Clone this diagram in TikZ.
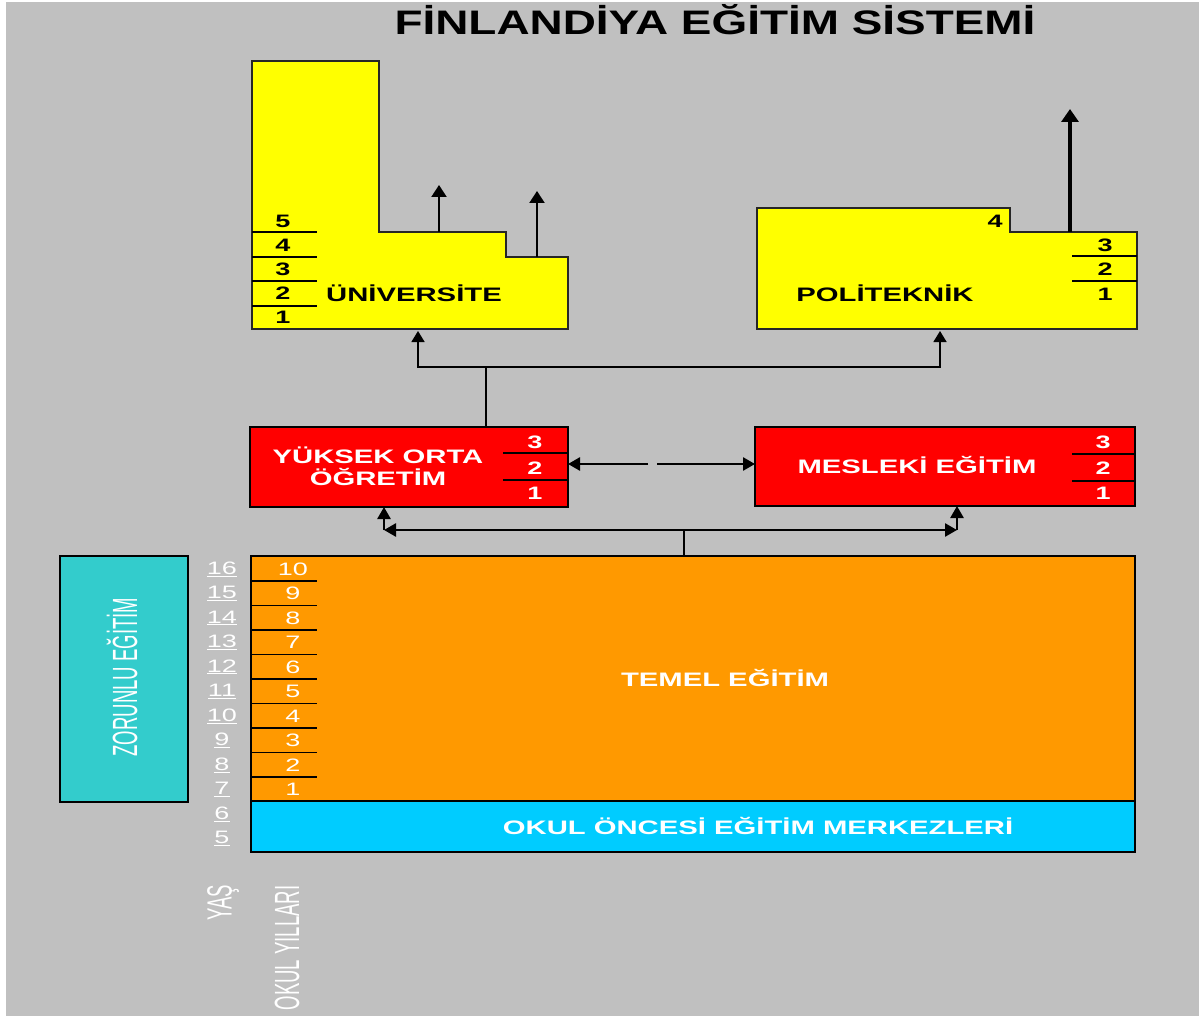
\documentclass[tikz,border=0pt]{standalone}
\usepackage{fontspec}
\setmainfont{Liberation Sans}
\newfontfamily\titlef{Liberation Sans Bold}[FakeStretch=1.35]
\newfontfamily\widebf{Liberation Sans Bold}[FakeStretch=1.5]
\newfontfamily\widerg{Liberation Sans}[FakeStretch=1.5]
\newfontfamily\condf{Liberation Sans}[FakeStretch=0.53]
\usetikzlibrary{arrows.meta}
\definecolor{bggray}{HTML}{C0C0C0}
\definecolor{ylw}{HTML}{FFFF00}
\definecolor{rd}{HTML}{FF0000}
\definecolor{orng}{HTML}{FF9900}
\definecolor{cyn}{HTML}{00CCFF}
\definecolor{teal2}{HTML}{33CCCC}
\tikzset{
  ybox/.style={draw=black!85, line width=1.6pt, fill=ylw},
  rbox/.style={draw=black, line width=2.6pt, fill=rd, rectangle, inner sep=0pt, outer sep=0pt},
  obox/.style={draw=black, line width=2.6pt, fill=orng, rectangle, inner sep=0pt, outer sep=0pt},
  cbox/.style={draw=black, line width=2.6pt, fill=cyn, rectangle, inner sep=0pt, outer sep=0pt},
  tbox/.style={draw=black, line width=2.6pt, fill=teal2, rectangle, inner sep=0pt, outer sep=0pt},
  titletext/.style={font=\titlef\fontsize{34}{40}\selectfont, text=black, inner sep=0pt},
  boxlabel/.style={font=\widebf\fontsize{19.5}{22}\selectfont, inner sep=0pt, align=center},
  numb/.style={font=\widebf\fontsize{18}{20}\selectfont, inner sep=0pt},
  thinnum/.style={font=\widerg\fontsize{18}{20}\selectfont, inner sep=0pt, text=white},
  vertlabel/.style={font=\condf\fontsize{35}{40}\selectfont, text=white, rotate=90, inner sep=0pt},
  yrline/.style={draw=black, line width=1.1pt},
  thinarrow/.style={draw=black, line width=1.6pt, -{Triangle[width=13pt,length=11pt]}},
  medarrow/.style={draw=black, line width=2.2pt, -{Triangle[width=15pt,length=12pt]}},
  thickarrow/.style={draw=black, line width=3.4pt, -{Triangle[width=17pt,length=13pt]}},
  redarrow/.style={draw=black, line width=2.6pt, -{Triangle[width=13pt,length=12pt]}},
  plainline/.style={draw=black, line width=1.6pt},
  thickline/.style={draw=black, line width=2.6pt}
}
\begin{document}
\begin{tikzpicture}[x=1pt,y=-1pt]
\useasboundingbox (0,0) rectangle (1199,1016);
\fill[white] (0,0) rectangle (1199,1016);
\fill[bggray] (6,2) rectangle (1199,1016);

% title
\node[titletext] (title) at (715,20) {FİNLANDİYA EĞİTİM SİSTEMİ};

% university
\draw[ybox] (252,61) -- (379,61) -- (379,232) -- (506,232) -- (506,257) -- (568,257) -- (568,329) -- (252,329) -- cycle;
\foreach \yy in {232,257,281,306} \draw[yrline] (252,\yy) -- (317,\yy);
\foreach \n/\yy in {5/221,4/245,3/269,2/293,1/317} \node[numb] (u\n) at (283,\yy) {\n};
\node[boxlabel] (uni) at (414,293) {ÜNİVERSİTE};
\coordinate (uniA) at (439,232);
\coordinate (uniAt) at (439,185);
\coordinate (uniB) at (537,257);
\coordinate (uniBt) at (537,191);
\coordinate (uniIn) at (418,331);
\draw[medarrow] (uniA) -- (uniAt);
\draw[medarrow] (uniB) -- (uniBt);

% politeknik
\draw[ybox] (757,208) -- (1010,208) -- (1010,232) -- (1137,232) -- (1137,329) -- (757,329) -- cycle;
\foreach \yy in {256,281} \draw[yrline] (1072,\yy) -- (1137,\yy);
\foreach \n/\yy in {3/245,2/269,1/294} \node[numb] (p\n) at (1105,\yy) {\n};
\node[numb] (p4) at (995,221) {4};
\node[boxlabel] (poli) at (885,293) {POLİTEKNİK};
\coordinate (polA) at (1070,232);
\coordinate (polAt) at (1070,109);
\coordinate (polIn) at (940,331);
\draw[thickarrow] (polA) -- (polAt);

% red boxes
\node[rbox, minimum width=318, minimum height=80] (yuk) at (409,467) {};
\node[rbox, minimum width=380, minimum height=79] (mes) at (945,466.5) {};
\foreach \yy in {453,480} \draw[yrline] (503,\yy) -- (568,\yy);
\foreach \yy in {454,481} \draw[yrline] (1072,\yy) -- (1135,\yy);
\foreach \n/\yy in {3/442,2/468,1/493} {
  \node[numb, text=white] (y\n) at (535,\yy) {\n};
  \node[numb, text=white] (m\n) at (1103,\yy) {\n};
}
\node[boxlabel, text=white] (yuklab) at (378,466) {YÜKSEK ORTA\\ÖĞRETİM};
\node[boxlabel, text=white] (meslab) at (917,465) {MESLEKİ EĞİTİM};

% connector from yuksek orta to higher ed
\coordinate (j1) at (486,367);
\draw[plainline] (yuk.north -| j1) -- (j1);
\draw[thinarrow] (j1) -| (uniIn);
\draw[thinarrow] (j1) -| (polIn);

% double arrow between red boxes
\coordinate (g1) at (648,464);
\coordinate (g2) at (657,464);
\draw[redarrow] (g1) -- (g1 -| yuk.east);
\draw[redarrow] (g2) -- (g2 -| mes.west);

% temel egitim
\node[obox, minimum width=884, minimum height=245] (temel) at (693,678.5) {};
\node[cbox, minimum width=884, minimum height=51] (okul) at (693,826.5) {};
\foreach \yy in {581,605.5,630,654.5,679,703.5,728,752.5,777} \draw[yrline] (251,\yy) -- (317,\yy);
\foreach \g in {1,...,10} \node[thinnum] (g\g) at (293,{569+(10-\g)*24.5}) {\g};
\foreach \a in {5,...,16} \node[thinnum] (a\a) at (222,{569+(16-\a)*24.5}) {\underline{\a}};
\node[boxlabel, text=white] (temellab) at (725,678) {TEMEL EĞİTİM};
\node[boxlabel, text=white] (okullab) at (758,826) {OKUL ÖNCESİ EĞİTİM MERKEZLERİ};

% zorunlu
\node[tbox, minimum width=128, minimum height=246] (zor) at (124,679) {};
\node[vertlabel] (zorlab) at (122,677) {ZORUNLU EĞİTİM};
\node[vertlabel] (yas) at (223,903) {YAŞ};
\node[vertlabel] (oky) at (287,948) {OKUL YILLARI};

% connectors from temel to red boxes
\coordinate (j2) at (684,530);
\coordinate (c1) at (384,530);
\coordinate (c2) at (957,530);
\draw[thickline] (temel.north -| j2) -- (j2);
\draw[redarrow] (j2) -- (c1);
\draw[redarrow] (c1) -- (yuk.south -| c1);
\draw[redarrow] (j2) -- (c2);
\draw[redarrow] (c2) -- (mes.south -| c2);
\end{tikzpicture}
\end{document}
